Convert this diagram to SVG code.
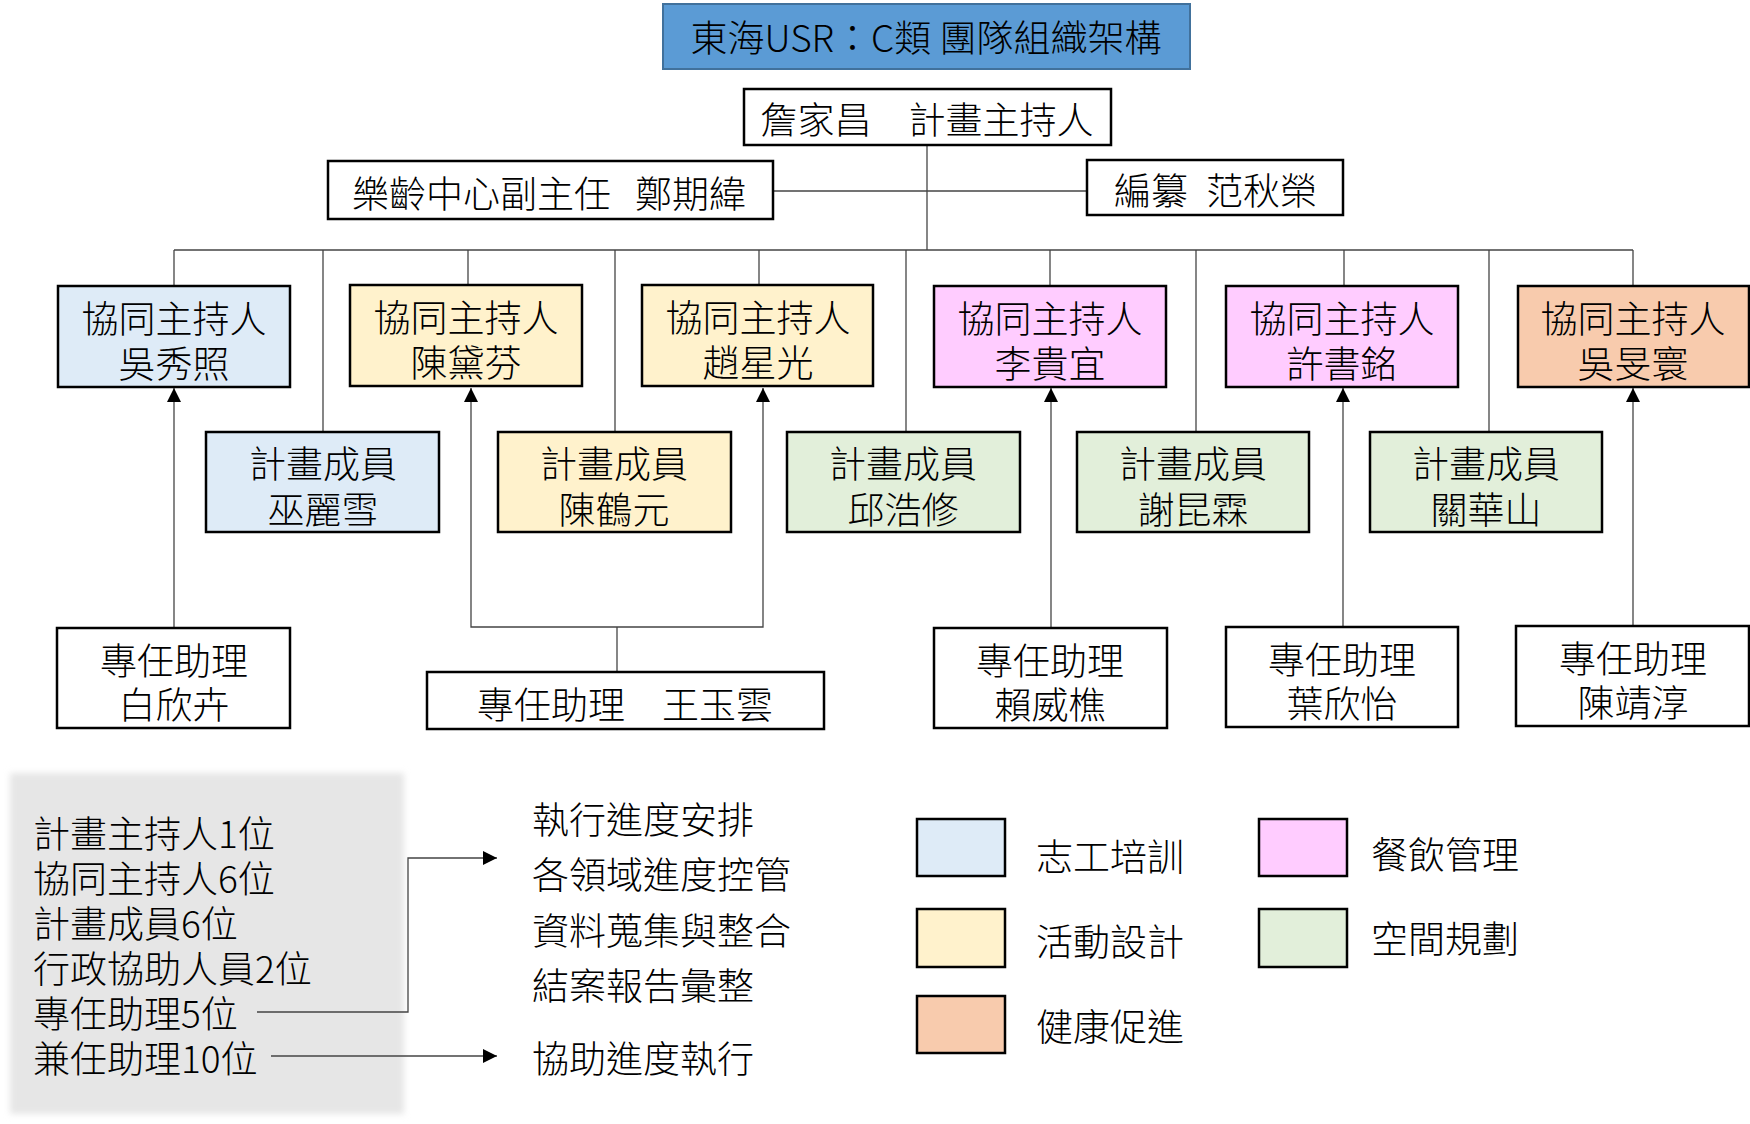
<svg xmlns="http://www.w3.org/2000/svg" width="1750" height="1124" viewBox="0 0 1750 1124">
<style>
text{font-family:"Noto Sans CJK TC","Noto Sans CJK SC",sans-serif;font-size:37px;font-weight:300;fill:#000;dominant-baseline:central}
.c{text-anchor:middle}
.box{stroke:#000;stroke-width:2.5}
.w{fill:#fff}
.blue{fill:#deebf7}
.yel{fill:#fff2cc}
.pink{fill:#ffccff}
.green{fill:#e2efda}
.orange{fill:#f8cbad}
.ln{stroke:#444;stroke-width:1.3;fill:none}
</style>
<defs>
<marker id="ar" viewBox="0 0 10 10" refX="10" refY="5" markerWidth="15" markerHeight="14" markerUnits="userSpaceOnUse" orient="auto">
<path d="M0,0 L10,5 L0,10 Z" fill="#000"/>
</marker>
<marker id="ar2" viewBox="0 0 10 10" refX="10" refY="5" markerWidth="15" markerHeight="14" markerUnits="userSpaceOnUse" orient="auto">
<path d="M0,0 L10,5 L0,10 Z" fill="#000"/>
</marker>
<filter id="soft" x="-5%" y="-5%" width="110%" height="110%"><feGaussianBlur stdDeviation="3"/></filter>
</defs>
<rect width="1750" height="1124" fill="#fff"/>

<g id="summary">
<rect x="10" y="773" width="394" height="341" fill="#e6e6e6" filter="url(#soft)"/>
<text x="33" y="832">計畫主持人1位</text>
<text x="33" y="877">協同主持人6位</text>
<text x="33" y="922">計畫成員6位</text>
<text x="33" y="967">行政協助人員2位</text>
<text x="33" y="1012">專任助理5位</text>
<text x="33" y="1057">兼任助理10位</text>
</g>

<g id="connectors">
<line class="ln" x1="927" y1="146" x2="927" y2="250"/>
<line class="ln" x1="773" y1="191" x2="1087" y2="191"/>
<line class="ln" x1="174" y1="250" x2="1633" y2="250"/>
<line class="ln" x1="174" y1="250" x2="174" y2="286"/>
<line class="ln" x1="468" y1="250" x2="468" y2="285"/>
<line class="ln" x1="759" y1="250" x2="759" y2="285"/>
<line class="ln" x1="1050" y1="250" x2="1050" y2="286"/>
<line class="ln" x1="1344" y1="250" x2="1344" y2="286"/>
<line class="ln" x1="1633" y1="250" x2="1633" y2="286"/>
<line class="ln" x1="323" y1="250" x2="323" y2="432"/>
<line class="ln" x1="615" y1="250" x2="615" y2="432"/>
<line class="ln" x1="906" y1="250" x2="906" y2="432"/>
<line class="ln" x1="1196" y1="250" x2="1196" y2="432"/>
<line class="ln" x1="1489" y1="250" x2="1489" y2="432"/>
<line class="ln" x1="174" y1="628" x2="174" y2="388" marker-end="url(#ar)"/>
<line class="ln" x1="617" y1="672" x2="617" y2="627"/>
<polyline class="ln" points="471,398 471,627 763,627 763,398"/>
<line class="ln" x1="471" y1="400" x2="471" y2="388" marker-end="url(#ar)"/>
<line class="ln" x1="763" y1="400" x2="763" y2="388" marker-end="url(#ar)"/>
<line class="ln" x1="1051" y1="628" x2="1051" y2="388" marker-end="url(#ar)"/>
<line class="ln" x1="1343" y1="627" x2="1343" y2="388" marker-end="url(#ar)"/>
<line class="ln" x1="1633" y1="626" x2="1633" y2="388" marker-end="url(#ar)"/>
<polyline class="ln" points="257,1012 408,1012 408,858 497,858" marker-end="url(#ar2)"/>
<line class="ln" x1="271" y1="1056" x2="497" y2="1056" marker-end="url(#ar2)"/>
</g>

<g id="title">
<rect x="663" y="4" width="527" height="65" fill="#5b9bd5" stroke="#41719c" stroke-width="2"/>
<text class="c" x="926" y="36">東海USR：C類 團隊組織架構</text>
</g>
<g id="pi">
<rect class="box w" x="744" y="89" width="367" height="56"/>
<text class="c" x="927" y="118">詹家昌　計畫主持人</text>
</g>
<g id="vice">
<rect class="box w" x="328" y="161" width="445" height="58"/>
<text x="352" y="192">樂齡中心副主任<tspan dx="24">鄭期緯</tspan></text>
</g>
<g id="editor">
<rect class="box w" x="1087" y="160" width="256" height="55"/>
<text x="1114" y="189">編纂<tspan dx="18">范秋榮</tspan></text>
</g>

<g id="co1"><rect class="box blue" x="58" y="286" width="232" height="101"/><text class="c" x="174" y="317">協同主持人</text><text class="c" x="174" y="362">吳秀照</text></g>
<g id="co2"><rect class="box yel" x="350" y="285" width="232" height="101"/><text class="c" x="466" y="316">協同主持人</text><text class="c" x="466" y="361">陳黛芬</text></g>
<g id="co3"><rect class="box yel" x="642" y="285" width="231" height="101"/><text class="c" x="758" y="316">協同主持人</text><text class="c" x="758" y="361">趙星光</text></g>
<g id="co4"><rect class="box pink" x="934" y="286" width="232" height="101"/><text class="c" x="1050" y="317">協同主持人</text><text class="c" x="1050" y="362">李貴宜</text></g>
<g id="co5"><rect class="box pink" x="1226" y="286" width="232" height="101"/><text class="c" x="1342" y="317">協同主持人</text><text class="c" x="1342" y="362">許書銘</text></g>
<g id="co6"><rect class="box orange" x="1518" y="286" width="231" height="101"/><text class="c" x="1633" y="317">協同主持人</text><text class="c" x="1633" y="362">吳旻寰</text></g>

<g id="m1"><rect class="box blue" x="206" y="432" width="233" height="100"/><text class="c" x="323" y="462">計畫成員</text><text class="c" x="323" y="508">巫麗雪</text></g>
<g id="m2"><rect class="box yel" x="498" y="432" width="233" height="100"/><text class="c" x="614" y="462">計畫成員</text><text class="c" x="614" y="508">陳鶴元</text></g>
<g id="m3"><rect class="box green" x="787" y="432" width="233" height="100"/><text class="c" x="903" y="462">計畫成員</text><text class="c" x="903" y="508">邱浩修</text></g>
<g id="m4"><rect class="box green" x="1077" y="432" width="232" height="100"/><text class="c" x="1193" y="462">計畫成員</text><text class="c" x="1193" y="508">謝昆霖</text></g>
<g id="m5"><rect class="box green" x="1370" y="432" width="232" height="100"/><text class="c" x="1486" y="462">計畫成員</text><text class="c" x="1486" y="508">關華山</text></g>

<g id="a1"><rect class="box w" x="57" y="628" width="233" height="100"/><text class="c" x="174" y="659">專任助理</text><text class="c" x="174" y="703">白欣卉</text></g>
<g id="a2"><rect class="box w" x="427" y="672" width="397" height="57"/><text class="c" x="625" y="703">專任助理　王玉雲</text></g>
<g id="a3"><rect class="box w" x="934" y="628" width="233" height="100"/><text class="c" x="1050" y="659">專任助理</text><text class="c" x="1050" y="703">賴威樵</text></g>
<g id="a4"><rect class="box w" x="1226" y="627" width="232" height="100"/><text class="c" x="1342" y="658">專任助理</text><text class="c" x="1342" y="702">葉欣怡</text></g>
<g id="a5"><rect class="box w" x="1516" y="626" width="233" height="100"/><text class="c" x="1633" y="657">專任助理</text><text class="c" x="1633" y="701">陳靖淳</text></g>

<g id="duties">
<text x="532" y="818">執行進度安排</text>
<text x="532" y="873">各領域進度控管</text>
<text x="532" y="929">資料蒐集與整合</text>
<text x="532" y="984">結案報告彙整</text>
<text x="532" y="1057">協助進度執行</text>
</g>
<g id="legend">
<rect class="box blue" x="917" y="819" width="88" height="57"/><text x="1036" y="855">志工培訓</text>
<rect class="box yel" x="917" y="909" width="88" height="58"/><text x="1036" y="940">活動設計</text>
<rect class="box orange" x="917" y="996" width="88" height="57"/><text x="1036" y="1025">健康促進</text>
<rect class="box pink" x="1259" y="819" width="88" height="57"/><text x="1371" y="853">餐飲管理</text>
<rect class="box green" x="1259" y="909" width="88" height="58"/><text x="1371" y="937">空間規劃</text>
</g>
</svg>
